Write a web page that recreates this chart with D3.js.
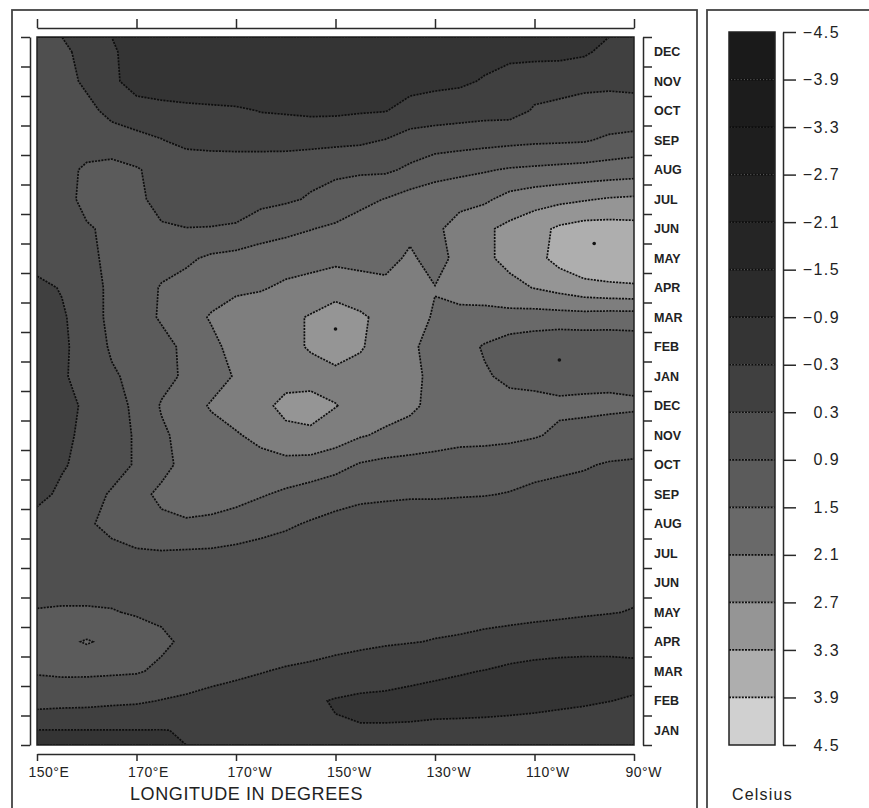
<!DOCTYPE html>
<html lang="en">
<head>
<meta charset="UTF-8">
<title>Longitude-time section of temperature anomaly</title>
<script src="https://d3js.org/d3.v7.min.js"></script>
<style>
    body { margin: 0; background: #fff; }
    svg { display: block; font-family: "Liberation Sans", Arial, sans-serif; }
</style>
</head>
<body>
<svg id="chart" width="869" height="808"></svg>
<script>
// grid longitudes (degrees east), 150E .. 90W
const lons = [150, 155, 160, 165, 170, 175, 180, 185, 190, 195, 200, 205, 210,
              215, 220, 225, 230, 235, 240, 245, 250, 255, 260, 265, 270];

// axis ticks
const lonTicks = [150, 170, 190, 210, 230, 250, 270];
const lonLabels = ["150°E", "170°E", "170°W", "150°W", "130°W", "110°W", "90°W"];
const monthLabels = ["JAN", "FEB", "MAR", "APR", "MAY", "JUN", "JUL", "AUG", "SEP", "OCT", "NOV", "DEC",
                     "JAN", "FEB", "MAR", "APR", "MAY", "JUN", "JUL", "AUG", "SEP", "OCT", "NOV", "DEC"];

// contour levels (Celsius) and the grey of each band between them
const levels = [-4.5, -3.9, -3.3, -2.7, -2.1, -1.5, -0.9, -0.3, 0.3, 0.9, 1.5, 2.1, 2.7, 3.3, 3.9, 4.5];
const bandGrays = ["#1a1a1a", "#1c1c1c", "#1e1e1e", "#212121", "#252525", "#2b2b2b", "#343434",
                   "#404040", "#4f4f4f", "#5b5b5b", "#696969", "#7e7e7e", "#959595", "#aeaeae", "#d0d0d0"];

// anomaly, one row per month (first row = first JAN at the bottom), one value per longitude
const sst = [
    [-0.31, -0.31, -0.31, -0.31, -0.31, -0.31, -0.28, -0.2, -0.15, -0.15, -0.2, -0.22, -0.25, -0.26, -0.25, -0.22, -0.15, -0.1, -0.05, 0.0, 0.05, 0.05, 0.05, 0.05, 0.05],
    [0.55, 0.5, 0.48, 0.42, 0.38, 0.28, 0.2, 0.12, 0.08, 0.05, 0.0, -0.22, -0.34, -0.42, -0.45, -0.5, -0.55, -0.6, -0.62, -0.6, -0.55, -0.45, -0.38, -0.31, -0.25],
    [0.95, 1.0, 1.0, 0.98, 0.95, 0.8, 0.65, 0.5, 0.4, 0.32, 0.25, 0.2, 0.12, 0.05, 0.0, -0.1, -0.18, -0.25, -0.32, -0.45, -0.55, -0.6, -0.6, -0.55, -0.5],
    [1.25, 1.35, 1.55, 1.35, 1.2, 1.0, 0.8, 0.7, 0.65, 0.6, 0.55, 0.5, 0.45, 0.4, 0.35, 0.32, 0.28, 0.25, 0.2, 0.15, 0.1, 0.05, 0.0, -0.05, -0.05],
    [0.93, 0.95, 0.95, 0.93, 0.85, 0.8, 0.72, 0.65, 0.6, 0.58, 0.55, 0.55, 0.55, 0.52, 0.5, 0.48, 0.46, 0.45, 0.43, 0.42, 0.4, 0.38, 0.35, 0.32, 0.28],
    [0.7, 0.72, 0.72, 0.7, 0.68, 0.65, 0.62, 0.6, 0.6, 0.6, 0.6, 0.6, 0.6, 0.6, 0.6, 0.58, 0.55, 0.55, 0.52, 0.5, 0.5, 0.48, 0.45, 0.42, 0.4],
    [0.55, 0.6, 0.7, 0.8, 0.85, 0.85, 0.82, 0.8, 0.75, 0.7, 0.65, 0.62, 0.6, 0.6, 0.6, 0.6, 0.6, 0.6, 0.6, 0.6, 0.6, 0.6, 0.6, 0.6, 0.6],
    [0.5, 0.6, 0.85, 1.0, 1.15, 1.4, 1.45, 1.4, 1.25, 1.1, 0.98, 0.85, 0.75, 0.7, 0.65, 0.65, 0.65, 0.65, 0.6, 0.6, 0.6, 0.6, 0.6, 0.6, 0.6],
    [0.15, 0.4, 0.7, 0.95, 1.35, 1.6, 1.7, 1.72, 1.7, 1.55, 1.4, 1.25, 1.1, 1.0, 0.98, 0.95, 0.95, 0.93, 0.92, 0.88, 0.8, 0.75, 0.7, 0.65, 0.6],
    [0.05, 0.25, 0.45, 0.7, 0.95, 1.35, 1.65, 1.8, 1.85, 1.9, 1.9, 1.85, 1.7, 1.45, 1.35, 1.3, 1.25, 1.2, 1.15, 1.1, 1.05, 1.0, 0.95, 0.85, 0.8],
    [0.0, 0.2, 0.4, 0.7, 0.95, 1.4, 1.7, 1.9, 2.05, 2.25, 2.55, 2.6, 2.4, 2.15, 2.0, 1.9, 1.8, 1.7, 1.7, 1.65, 1.55, 1.4, 1.35, 1.3, 1.3],
    [-0.05, 0.2, 0.35, 0.7, 1.0, 1.55, 1.85, 2.15, 2.35, 2.55, 2.85, 2.9, 2.72, 2.5, 2.35, 2.2, 1.95, 1.75, 1.7, 1.65, 1.65, 1.6, 1.6, 1.58, 1.55],
    [-0.05, 0.2, 0.6, 0.85, 1.0, 1.3, 1.6, 1.85, 2.15, 2.35, 2.5, 2.5, 2.5, 2.5, 2.4, 2.2, 2.0, 1.8, 1.55, 1.4, 1.35, 1.3, 1.35, 1.4, 1.4],
    [-0.1, 0.15, 0.65, 0.95, 1.15, 1.35, 1.6, 1.95, 2.3, 2.4, 2.55, 2.75, 3.05, 2.75, 2.45, 2.2, 1.9, 1.7, 1.45, 1.2, 1.1, 1.0, 1.05, 1.1, 1.15],
    [0.0, 0.2, 0.7, 1.0, 1.3, 1.55, 1.85, 2.15, 2.35, 2.45, 2.55, 2.75, 3.1, 2.8, 2.5, 2.3, 2.05, 1.95, 1.9, 1.9, 1.85, 1.85, 1.85, 1.8, 1.8],
    [0.1, 0.35, 0.7, 1.0, 1.15, 1.55, 1.7, 1.85, 2.0, 2.05, 2.2, 2.3, 2.35, 2.3, 2.25, 2.2, 2.12, 2.3, 2.4, 2.55, 2.72, 2.9, 3.1, 3.2, 3.25],
    [0.6, 0.65, 0.8, 1.0, 1.1, 1.25, 1.4, 1.6, 1.7, 1.8, 1.85, 1.9, 2.0, 1.95, 1.9, 2.2, 1.85, 2.3, 2.6, 2.85, 3.1, 3.5, 3.75, 3.7, 3.6],
    [0.6, 0.7, 0.85, 1.0, 1.05, 0.95, 0.91, 0.92, 0.95, 1.2, 1.35, 1.48, 1.6, 1.75, 1.85, 1.95, 2.0, 2.3, 2.6, 2.85, 3.1, 3.4, 3.55, 3.55, 3.5],
    [0.6, 0.7, 1.05, 1.15, 1.0, 0.75, 0.65, 0.65, 0.7, 0.75, 0.82, 0.95, 1.1, 1.35, 1.52, 1.75, 1.85, 1.95, 2.0, 2.3, 2.45, 2.55, 2.65, 2.75, 2.8],
    [0.6, 0.7, 1.0, 1.1, 0.95, 0.7, 0.65, 0.65, 0.7, 0.7, 0.72, 0.75, 0.8, 0.8, 0.8, 1.0, 1.25, 1.35, 1.45, 1.55, 1.6, 1.65, 1.7, 1.75, 1.8],
    [0.6, 0.6, 0.6, 0.55, 0.45, 0.32, 0.15, 0.1, 0.05, 0.05, 0.05, 0.1, 0.15, 0.2, 0.32, 0.55, 0.6, 0.65, 0.7, 0.75, 0.8, 0.82, 0.85, 1.0, 1.1],
    [0.6, 0.6, 0.45, 0.15, 0.0, -0.05, -0.1, -0.15, -0.2, -0.32, -0.35, -0.4, -0.4, -0.35, -0.32, -0.1, 0.0, 0.05, 0.1, 0.1, 0.35, 0.4, 0.45, 0.5, 0.45],
    [0.6, 0.5, 0.2, -0.15, -0.6, -0.75, -0.85, -0.88, -0.88, -0.85, -0.8, -0.7, -0.6, -0.55, -0.5, -0.5, -0.45, -0.4, -0.25, 0.0, 0.1, 0.15, 0.2, 0.2, 0.2],
    [0.6, 0.5, 0.0, -0.2, -0.6, -0.7, -0.8, -0.8, -0.8, -0.8, -0.7, -0.6, -0.5, -0.5, -0.5, -0.5, -0.5, -0.5, -0.5, -0.5, -0.5, -0.5, -0.4, -0.1, 0.1]
];

// dots marking local extremes
const markLon = [210, 262, 255];
const markMonth = [14.1, 17.0, 13.05];

const svg = d3.select("#chart");
const plot = { left: 37, right: 634, top: 37, bottom: 745 };
const ink = "#2a2a2a";

const x = d3.scaleLinear().domain([lons[0], lons[lons.length - 1]]).range([plot.left, plot.right]);
const y = d3.scaleLinear().domain([0, sst.length]).range([plot.bottom, plot.top]);
const color = d3.scaleThreshold().domain(levels.slice(1, -1)).range(bandGrays);
const step = lons[1] - lons[0];

// panel frames
svg.append("rect").attr("x", 12).attr("y", 10).attr("width", 685).attr("height", 810)
    .attr("fill", "none").attr("stroke", "#444").attr("stroke-width", 1.8);
svg.append("rect").attr("x", 707).attr("y", 10).attr("width", 180).attr("height", 810)
    .attr("fill", "none").attr("stroke", "#444").attr("stroke-width", 1.8);

// filled contours
svg.append("clipPath").attr("id", "plot-clip")
    .append("rect").attr("x", plot.left).attr("y", plot.top)
    .attr("width", plot.right - plot.left).attr("height", plot.bottom - plot.top);

const contours = d3.contours().size([lons.length, sst.length]).thresholds(levels)(sst.flat());
const toScreen = d3.geoTransform({
    point(gx, gy) { this.stream.point(x(lons[0] + (gx - 0.5) * step), y(gy)); }
});
const path = d3.geoPath(toScreen);

const gMap = svg.append("g").attr("clip-path", "url(#plot-clip)");
gMap.selectAll("path.band").data(contours).join("path")
    .attr("class", "band").attr("d", path).attr("fill", d => color(d.value));
gMap.selectAll("path.iso").data(contours.slice(1)).join("path")
    .attr("class", "iso").attr("d", path).attr("fill", "none")
    .attr("stroke", "#0d0d0d").attr("stroke-width", 1.7).attr("stroke-dasharray", "2,1.2");
gMap.selectAll("circle").data(markLon).join("circle")
    .attr("cx", d => x(d)).attr("cy", (d, i) => y(markMonth[i])).attr("r", 1.8).attr("fill", "#111");

svg.append("rect").attr("x", plot.left).attr("y", plot.top)
    .attr("width", plot.right - plot.left).attr("height", plot.bottom - plot.top)
    .attr("fill", "none").attr("stroke", "#222").attr("stroke-width", 1.5);

function styleAxis(g) {
    g.select(".domain").attr("stroke", ink).attr("stroke-width", 1.5);
    g.selectAll(".tick line").attr("stroke", ink).attr("stroke-width", 1.5);
    g.selectAll("text").attr("fill", "#222").style("font-family", "Liberation Sans, Arial, sans-serif");
}

// longitude axes
svg.append("g").attr("transform", "translate(0,28)")
    .call(d3.axisTop(x).tickValues(lonTicks).tickSize(9).tickSizeOuter(0).tickFormat(""))
    .call(styleAxis);
svg.append("g").attr("transform", "translate(0,754)")
    .call(d3.axisBottom(x).tickValues(lonTicks).tickSize(7).tickSizeOuter(0).tickFormat((d, i) => lonLabels[i]))
    .call(styleAxis)
    .call(g => g.selectAll("text").attr("text-anchor", "start").attr("x", -9).attr("y", 13)
        .style("font-size", "14px").style("letter-spacing", "0.5px"));

// month axes
const monthEdges = d3.range(sst.length + 1);
svg.append("g").attr("transform", "translate(30,0)")
    .call(d3.axisLeft(y).tickValues(monthEdges).tickSize(9).tickSizeOuter(0).tickFormat(""))
    .call(styleAxis);
svg.append("g").attr("transform", "translate(643,0)")
    .call(d3.axisRight(y).tickValues(monthEdges).tickSize(9).tickSizeOuter(0).tickFormat(""))
    .call(styleAxis);
svg.append("g").selectAll("text").data(monthLabels).join("text")
    .attr("x", 654).attr("y", (d, i) => y(i + 0.5)).attr("dy", "0.36em")
    .attr("fill", "#222").style("font-size", "12.5px").style("font-weight", "bold")
    .text(d => d);

svg.append("text").attr("x", 130).attr("y", 800).attr("fill", "#222")
    .style("font-size", "18px").style("letter-spacing", "0.6px")
    .text("LONGITUDE IN DEGREES");

// colour bar
const cb = { left: 729, right: 775 };
const cy = d3.scaleLinear().domain([levels[0], levels[levels.length - 1]]).range([32, 745]);
svg.append("g").selectAll("rect").data(d3.pairs(levels)).join("rect")
    .attr("x", cb.left).attr("width", cb.right - cb.left)
    .attr("y", d => cy(d[0])).attr("height", d => cy(d[1]) - cy(d[0]))
    .attr("fill", d => color(d[0]));
svg.append("g").selectAll("line").data(levels.slice(1, -1)).join("line")
    .attr("x1", cb.left).attr("x2", cb.right).attr("y1", d => cy(d)).attr("y2", d => cy(d))
    .attr("stroke", "#0d0d0d").attr("stroke-width", 1.7).attr("stroke-dasharray", "2,1.2");
svg.append("rect").attr("x", cb.left).attr("y", cy(levels[0]))
    .attr("width", cb.right - cb.left).attr("height", cy(levels[levels.length - 1]) - cy(levels[0]))
    .attr("fill", "none").attr("stroke", "#222").attr("stroke-width", 1.5);
svg.append("g").attr("transform", "translate(783,0)")
    .call(d3.axisRight(cy).tickValues(levels).tickSize(13).tickSizeOuter(0).tickFormat(d3.format(".1f")))
    .call(styleAxis)
    .call(g => g.selectAll("text").attr("x", 57).attr("text-anchor", "end")
        .style("font-size", "16px").style("letter-spacing", "1.4px"));

svg.append("text").attr("x", 732).attr("y", 800).attr("fill", "#222")
    .style("font-size", "16px").style("letter-spacing", "1.2px")
    .text("Celsius");
</script>
</body>
</html>
